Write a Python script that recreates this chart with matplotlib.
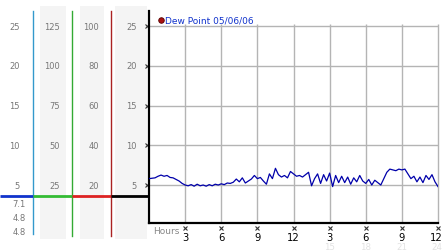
import numpy as np
import matplotlib
matplotlib.use('Agg')
import matplotlib.pyplot as plt
from matplotlib.patches import Rectangle
from matplotlib.transforms import blended_transform_factory, offset_copy

# 15-minute readings over 24 hours
hours = np.arange(97) * 0.25
dew_point = [
    5.8, 5.85, 5.9, 6.1,
    6.25, 6.1, 6.2, 5.95,
    5.9, 5.7, 5.5, 5.2,
    5.0, 4.9, 5.05, 4.85,
    5.1, 4.9, 5.0, 4.85,
    5.05, 4.9, 5.1, 5.0,
    5.15, 5.05, 5.25, 5.2,
    5.35, 5.75, 5.4, 5.9,
    5.25, 5.5, 5.75, 6.2,
    5.8, 5.95, 5.5, 5.1,
    6.4, 5.8, 7.1, 6.3,
    6.0, 6.2, 5.9, 6.7,
    6.4, 6.1, 6.2, 6.0,
    6.3, 6.6, 4.9, 5.8,
    6.4, 5.2, 6.3, 5.5,
    6.5, 4.8, 6.2, 5.3,
    6.1, 5.3, 6.0, 5.1,
    5.9, 5.4, 6.2, 5.5,
    5.2, 5.7, 5.0, 5.6,
    5.3, 5.0, 5.8, 6.6,
    7.0, 6.9, 6.8, 7.0,
    6.9, 7.0, 6.4, 5.8,
    6.1, 5.4, 6.0, 5.3,
    6.2, 5.7, 6.3, 5.4,
    4.8,
]

y_ticks = [5, 10, 15, 20, 25]
col2_ticks = [25, 50, 75, 100, 125]
col3_ticks = [20, 40, 60, 80, 100]
hour_ticks = [3, 6, 9, 12, 15, 18, 21, 24]
hour_labels = ['3', '6', '9', '12', '3', '6', '9', '12']
faint_ticks = [15, 18, 21, 24]
baseline = 3.6
legend_text = 'Dew Point 05/06/06'

W, H = 442, 253
fig = plt.figure(figsize=(W / 100, H / 100), dpi=100)
fig.patch.set_facecolor('white')

bg = fig.add_axes([0, 0, 1, 1], zorder=0)
bg.set_xlim(0, W)
bg.set_ylim(H, 0)
bg.axis('off')

ax = fig.add_axes([149 / W, (H - 224) / H, (438 - 149) / W, (224 - 12) / H], zorder=1)
ax.patch.set_alpha(0)
ax.set_xlim(0, 24)
ax.set_ylim(0.22, 26.89)
for s in ['top', 'right']:
    ax.spines[s].set_visible(False)
for s in ['left', 'bottom']:
    ax.spines[s].set_color('black')
    ax.spines[s].set_linewidth(1.6)
ax.set_xticks([])
ax.set_yticks([])

# pixel x, data y
ty = blended_transform_factory(bg.transData, ax.transData)
# data x, pixel y
tx = blended_transform_factory(ax.transData, bg.transData)

# gray column backgrounds
for x0, x1 in [(40, 66), (80, 104), (115, 147)]:
    bg.add_patch(Rectangle((x0, 7), x1 - x0, 233, fc='#f4f4f4', ec='none'))

# colored scale lines
bg.plot([33, 33], [12, 235], color='#3399cc', lw=1)
bg.plot([72, 72], [12, 237], color='#33aa33', lw=1)
bg.plot([111, 111], [12, 237], color='#aa2222', lw=1)

lab = dict(fontsize=6, color='#777777', va='center', ha='right', transform=ty)
for i, v in enumerate(y_ticks):
    bg.text(20, v, str(v), **lab)
    bg.text(60, v, str(col2_ticks[i]), **lab)
    bg.text(99, v, str(col3_ticks[i]), **lab)
    bg.text(137, v, str(v), **lab)

# baseline segments
for x0, x1, c in [(0, 33, '#1133cc'), (33, 72, '#33bb33'), (72, 111, '#dd2222'), (111, 149, 'black')]:
    bg.plot([x0, x1], [baseline, baseline], color=c, lw=2, transform=ty, solid_capstyle='butt')

# max / min / last
stats = [max(dew_point), min(dew_point), dew_point[-1]]
for k, v in enumerate(stats):
    bg.text(26, 205 + k * 14, f'{v:.1f}', fontsize=6, color='#777777', ha='right', va='center')

# grid
ax.hlines(y_ticks, 0, 24, color='#b4b4b4', lw=1, zorder=1, clip_on=False)
ax.vlines(hour_ticks, 0.22, 25.3, color='#b4b4b4', lw=1, zorder=1, clip_on=False)

# data line
ax.plot(hours, dew_point, color='#0000aa', lw=0.9, zorder=3)

# little tick markers
bg.plot([147] * len(y_ticks), y_ticks, 'x', ms=2.2, mew=0.8, color='#333333', transform=ty)
ax.plot(hour_ticks, [229] * len(hour_ticks), 'x', ms=2.2, mew=0.8, color='#333333',
        transform=tx, clip_on=False)

# the last label sits right at the edge, nudge it in a bit
tx_last = offset_copy(tx, fig=fig, x=-1.5, y=0, units='dots')
for k, (t, l) in enumerate(zip(hour_ticks, hour_labels)):
    tr = tx_last if k == len(hour_ticks) - 1 else tx
    ax.text(t, 238, l, fontsize=7.2, color='black', ha='center', va='center', transform=tr)
for t in faint_ticks:
    tr = tx_last if t == faint_ticks[-1] else tx
    ax.text(t, 248, str(t), fontsize=6.2, color='#e2e2e2', ha='center', va='center', transform=tr)
bg.text(153, 232, 'Hours', fontsize=6.5, color='#888888', ha='left', va='center')

# legend
bg.plot(160.5, 20.5, 'o', ms=4, mfc='#aa1111', mec='#550000', mew=0.6)
bg.text(165, 20.5, legend_text, fontsize=6.5, color='#1133cc', ha='left', va='center')

fig.savefig('out.png', dpi=100)
